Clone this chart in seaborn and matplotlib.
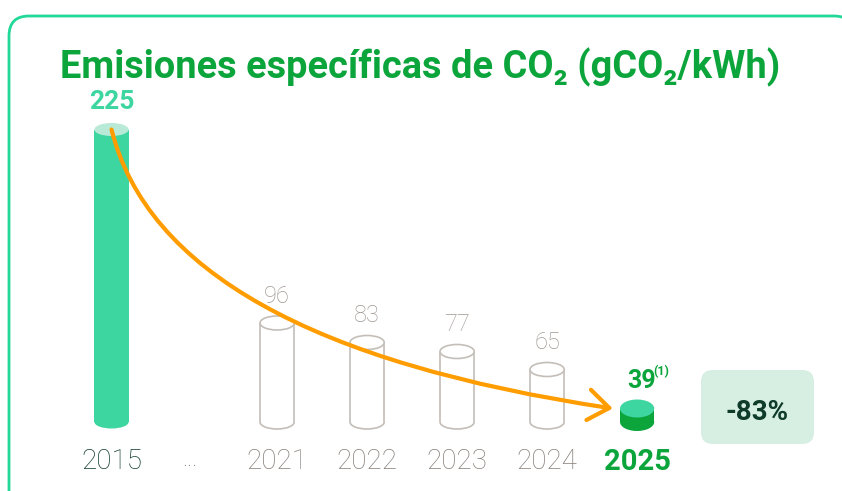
import matplotlib
matplotlib.use("Agg")
import matplotlib.pyplot as plt
from matplotlib import font_manager
from matplotlib.patches import Arc, Ellipse, FancyBboxPatch
from matplotlib.transforms import Affine2D
import numpy as np
import pandas as pd
import seaborn as sns

# ── data ──────────────────────────────────────────────────────
YEARS = ["2015", "2021", "2022", "2023", "2024", "2025"]
VALUES = [225, 96, 83, 77, 65, 39]          # gCO2/kWh
TITLE = "Emisiones específicas de CO₂ (gCO₂/kWh)"
GAP_LABEL = "..."
NOTE = "(1)"

# ── colours ───────────────────────────────────────────────────
MINT = "#3dd5a0"
MINT_LIGHT = "#b9ead7"
GREEN = "#0ba53c"
DARK = "#0e3b2a"
GREY_LINE = "#c4beb8"
GREY_TEXT = "#9f9893"
GREY_YEAR = "#857e79"
ORANGE = "#ff9d00"
BOX = "#d7eee2"
FRAME = "#22d898"

# ── layout (pixels of the 842x491 canvas) ─────────────────────
W, H = 842, 491
PX_X = 90.0        # px per slot
PX_Y = 1.5         # px per gCO2/kWh
BASE = 30          # value sitting on the baseline (axis is cut)
X0_PX, BASE_PX = 111.5, 422
GAP = 1.84         # slots between 2015 and 2021
BAR_W = 0.38

sns.set_style("white")
plt.rcParams["font.family"] = ["Roboto", "DejaVu Sans"]

names = {f.name for f in font_manager.fontManager.ttflist}
title_font = "Liberation Sans Narrow" if "Liberation Sans Narrow" in names else "Roboto"

fig = plt.figure(figsize=(W / 100, H / 100), dpi=100)
px = Affine2D().scale(1, -1).translate(0, H) + Affine2D().scale(1 / 100) + fig.dpi_scale_trans


def fx(p):
    return p / W


def fy(p):
    return 1 - p / H


ax_l, ax_r, ax_t = 60, 780, 60
ax = fig.add_axes([fx(ax_l), fy(BASE_PX), (ax_r - ax_l) / W, (BASE_PX - ax_t) / H])
ax.patch.set_visible(False)

pos = np.array([0.0] + [GAP + i for i in range(len(YEARS) - 1)])
df = pd.DataFrame({"year": YEARS, "value": VALUES, "pos": pos})

body = [MINT] + ["white"] * 4 + [GREEN]
top = [MINT_LIGHT] + ["white"] * 4 + [MINT]
filled = [True, False, False, False, False, True]
ell_px = [13, 14, 14, 14, 14, 18]

sns.barplot(data=df, x="pos", y="value", native_scale=True, width=BAR_W,
            errorbar=None, saturation=1, linewidth=0, color=MINT, ax=ax)
for p, c in zip(ax.patches, body):
    p.set_facecolor(c)

ax.set_xlim((ax_l - X0_PX) / PX_X, (ax_r - X0_PX) / PX_X)
ax.set_ylim(BASE, BASE + (BASE_PX - ax_t) / PX_Y)

# cylinders: bottom cap, sides, top cap
for x, v, b, t, f, e in zip(pos, VALUES, body, top, filled, ell_px):
    eh = e / PX_Y
    if f:
        ax.add_patch(Ellipse((x, BASE), BAR_W, eh, facecolor=b, edgecolor="none",
                             clip_on=False, zorder=1))
        ax.add_patch(Ellipse((x, v), BAR_W, eh, facecolor=t, edgecolor="none", zorder=3))
    else:
        ax.add_patch(Arc((x, BASE), BAR_W, eh, theta1=180, theta2=360, color=GREY_LINE,
                         lw=1.2, clip_on=False, zorder=3))
        ax.vlines([x - BAR_W / 2, x + BAR_W / 2], BASE, v, color=GREY_LINE, lw=1.2, zorder=3)
        ax.add_patch(Ellipse((x, v), BAR_W, eh, facecolor="white", edgecolor=GREY_LINE,
                             lw=1.2, zorder=3))

# value labels
lab_col = [MINT] + [GREY_TEXT] * 4 + [GREEN]
lab_w = ["bold"] + ["light"] * 4 + ["bold"]
lab_fs = [19, 17, 17, 17, 17, 18]
lab_dx = [0, 0, 0, 0, 0, 3]
for x, v, c, w, s, dx in zip(pos, VALUES, lab_col, lab_w, lab_fs, lab_dx):
    ax.annotate(f"{v}", (x, v), xytext=(dx, 14.5), textcoords="offset points",
                ha="center", va="baseline", color=c, fontweight=w, fontsize=s,
                annotation_clip=False)
ax.annotate(NOTE, (pos[-1], VALUES[-1]), xytext=(17.5, 24), textcoords="offset points",
            ha="center", va="baseline", color=GREEN, fontweight="bold", fontsize=9,
            annotation_clip=False)

# decay arrow from the 2015 bar to the 2025 bar
ax.annotate("", xy=(pos[-1] - 0.27, VALUES[-1]), xytext=(pos[0], VALUES[0]),
            arrowprops=dict(arrowstyle="->,head_length=0.75,head_width=0.55",
                            connectionstyle="angle3,angleA=-76,angleB=-8.5",
                            color=ORANGE, lw=3, shrinkA=0, shrinkB=0, mutation_scale=20,
                            capstyle="round", joinstyle="round"),
            annotation_clip=False, zorder=6)

# year axis
tick_pos = [pos[0], (pos[0] + pos[1]) / 2 - 0.05] + list(pos[1:])
ax.set_xticks(tick_pos, [YEARS[0], GAP_LABEL] + YEARS[1:])
ax.set_yticks([])
ax.set(xlabel="", ylabel="")
ax.tick_params(axis="x", length=0, pad=18.5)
tk_col = [DARK, GREY_YEAR] + [GREY_YEAR] * 4 + [GREEN]
tk_w = ["light", "light"] + ["light"] * 4 + ["bold"]
tk_fs = [20, 17] + [20] * 4 + [21]
for lbl, c, w, s in zip(ax.get_xticklabels(), tk_col, tk_w, tk_fs):
    lbl.set_color(c)
    lbl.set_fontweight(w)
    lbl.set_fontsize(s)
sns.despine(ax=ax, left=True, bottom=True)

# reduction badge
change = (VALUES[-1] / VALUES[0] - 1) * 100
fig.add_artist(FancyBboxPatch((701, 370), 113, 74, boxstyle="round,pad=0,rounding_size=12",
                              facecolor=BOX, edgecolor="none", transform=px))
fig.text(fx(757.5), fy(420), f"{change:.0f}%", ha="center", va="baseline",
         color=DARK, fontweight="bold", fontsize=20)

# frame
fig.add_artist(FancyBboxPatch((9, 16), 845, 520, boxstyle="round,pad=0,rounding_size=20",
                              facecolor="none", edgecolor=FRAME, lw=2, transform=px))

# title, scaled to the reference width
t = fig.text(fx(60), fy(78), TITLE, ha="left", va="baseline", color=GREEN,
             fontweight="bold", fontsize=28, family=[title_font, "DejaVu Sans"])
r = fig.canvas.get_renderer()
t.set_fontsize(t.get_fontsize() * 720 / t.get_window_extent(r).width)

fig.savefig("out.png", dpi=100)
